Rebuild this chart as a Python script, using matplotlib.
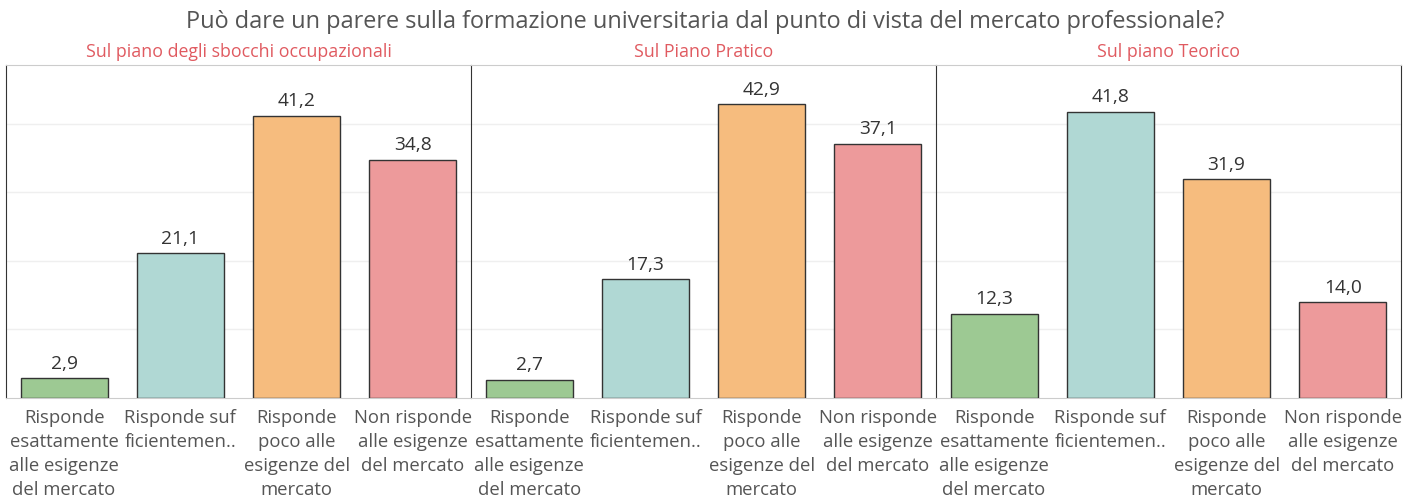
import matplotlib
matplotlib.use("Agg")
import matplotlib.pyplot as plt

title = "Può dare un parere sulla formazione universitaria dal punto di vista del mercato professionale?"
panels = ["Sul piano degli sbocchi occupazionali", "Sul Piano Pratico", "Sul piano Teorico"]
categories = [
    "Risponde\nesattamente\nalle esigenze\ndel mercato",
    "Risponde suf\nficientemen..",
    "Risponde\npoco alle\nesigenze del\nmercato",
    "Non risponde\nalle esigenze\ndel mercato",
]
values_sbocchi = [2.9, 21.1, 41.2, 34.8]
values_pratico = [2.7, 17.3, 42.9, 37.1]
values_teorico = [12.3, 41.8, 31.9, 14.0]
all_values = [values_sbocchi, values_pratico, values_teorico]
colors = ["#9dc993", "#b0d8d4", "#f6bc7e", "#ed9a9b"]

plt.rcParams['font.family'] = ['Open Sans', 'DejaVu Sans']

W, H = 1411, 497
fig = plt.figure(figsize=(W / 100, H / 100), dpi=100)
left, right, top, bottom = 6, 1401, 65, 398
pw = (right - left) / 3

fig.text(705 / W, 1 - 22 / H, title, ha='center', va='center', fontsize=16.9, color='#555555')

for i, (name, vals) in enumerate(zip(panels, all_values)):
    x0 = left + i * pw
    ax = fig.add_axes([x0 / W, 1 - bottom / H, pw / W, (bottom - top) / H])
    xs = range(len(categories))
    ax.bar(xs, vals, width=0.75, color=colors, edgecolor='#333333', linewidth=1.0, zorder=3)
    for x, v in zip(xs, vals):
        ax.text(x, v + 0.8, f"{v:.1f}".replace('.', ','), ha='center', va='bottom',
                fontsize=13.8, color='#333333', zorder=4)
    ax.set_xlim(-0.5, 3.5)
    ax.set_ylim(0, 48.6)
    ax.set_yticks([10, 20, 30, 40])
    ax.yaxis.grid(True, color='#efefef', linewidth=1, zorder=0)
    ax.tick_params(axis='y', left=False, labelleft=False)
    ax.set_xticks(list(xs))
    ax.set_xticklabels(categories, fontsize=13.3, color='#555555', linespacing=1.42)
    ax.tick_params(axis='x', length=0, pad=8)
    ax.spines['top'].set_color('#cccccc')
    ax.spines['bottom'].set_color('#cccccc')
    ax.spines['left'].set_color('#333333')
    ax.spines['right'].set_color('#333333')
    ax.spines['left'].set_visible(True)
    ax.spines['right'].set_visible(i == 2)
    ax.text(0.5, 1.0 + 13 / (bottom - top), name, transform=ax.transAxes, ha='center', va='center',
            fontsize=12.75, color='#e05a60')

fig.savefig("out.png", dpi=100)
